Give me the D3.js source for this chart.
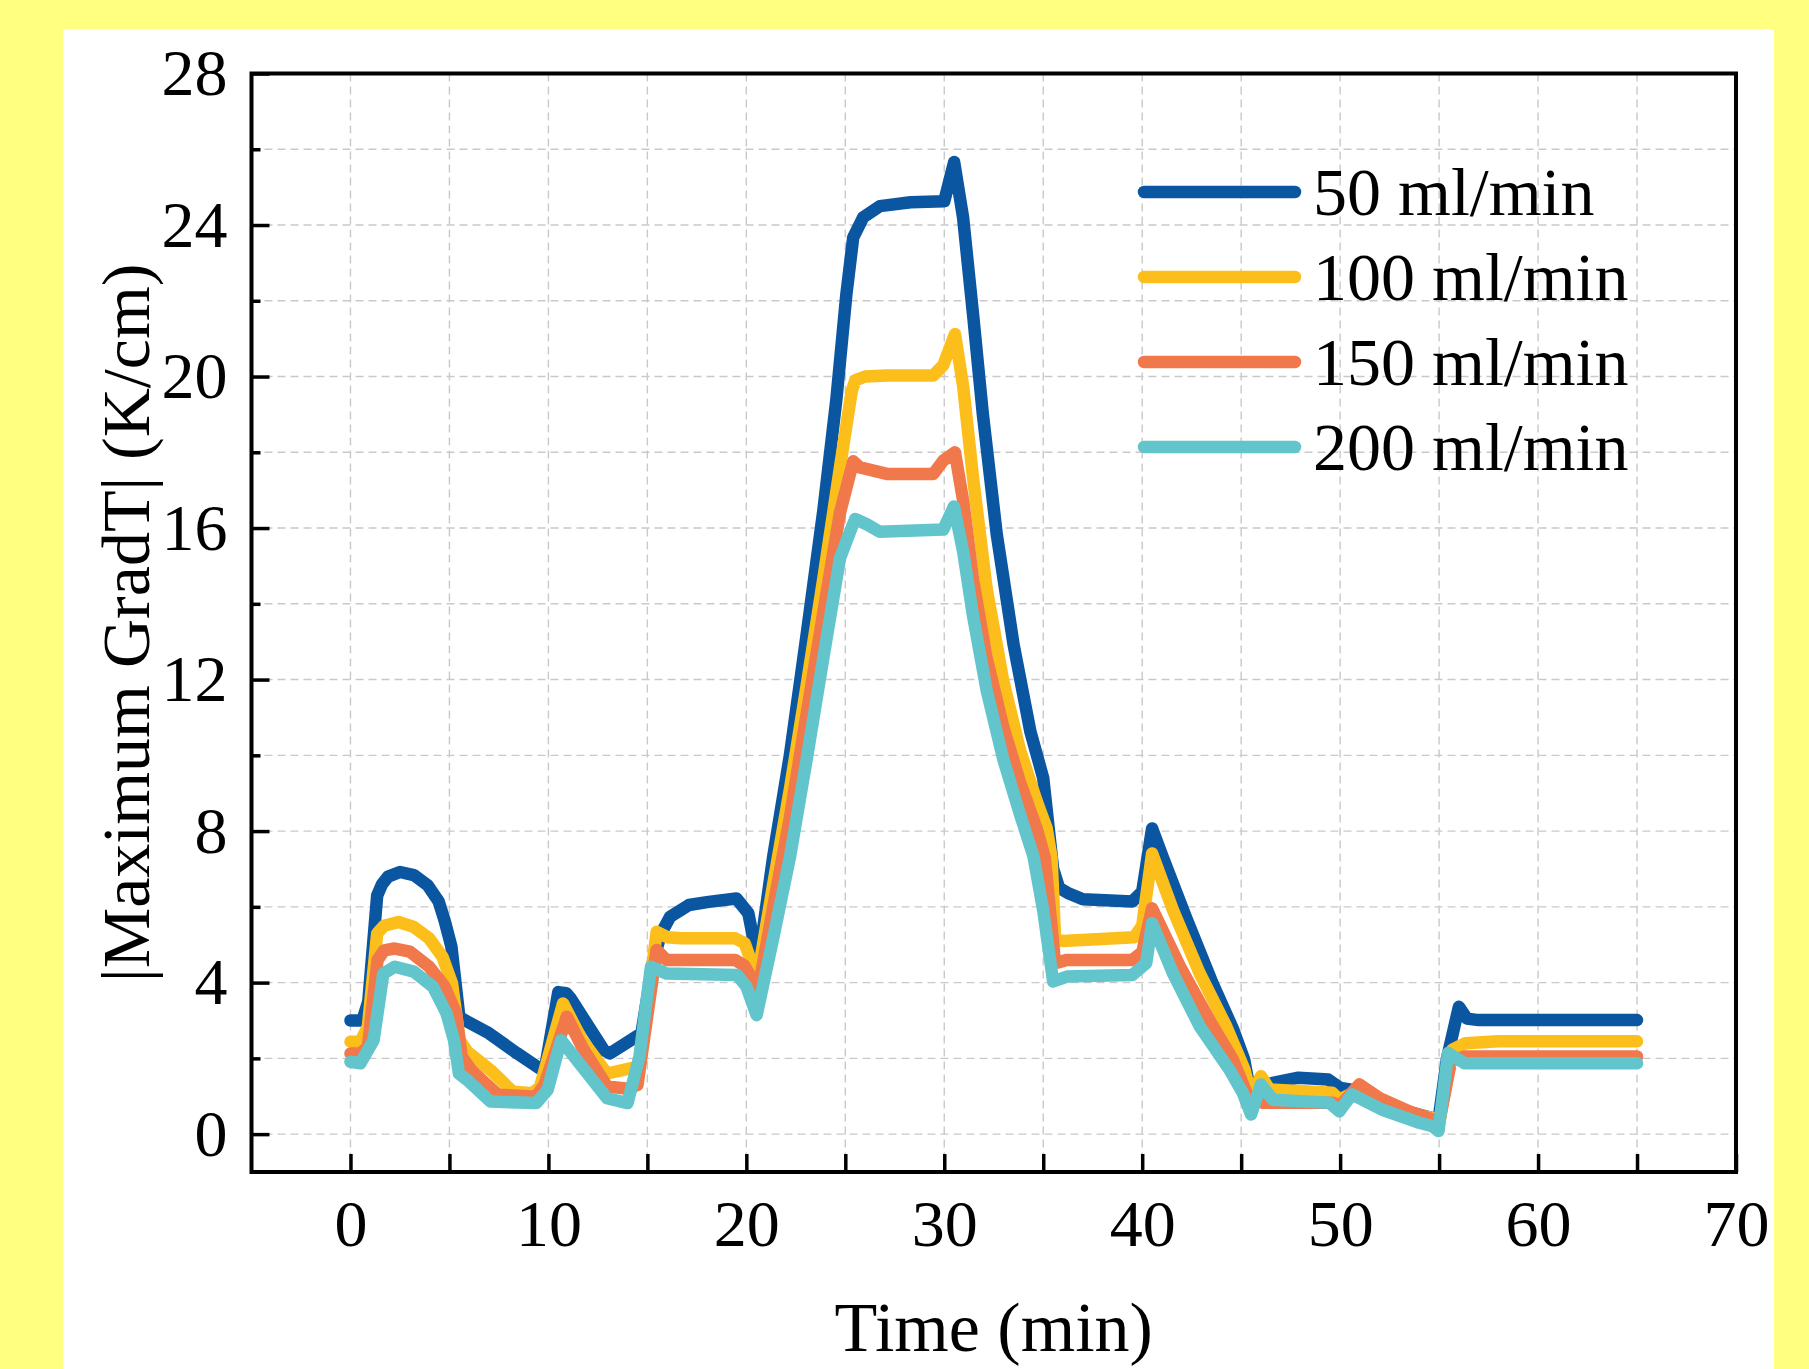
<!DOCTYPE html>
<html>
<head>
<meta charset="utf-8">
<script src="https://cdn.jsdelivr.net/npm/d3@7"></script>
<style>
  html, body { margin: 0; padding: 0; background: #ffff80; }
  svg { display: block; }
</style>
</head>
<body>
<svg id="chart" width="1809" height="1369"></svg>
<script>
// Flow-rate series: time (min) and |Maximum GradT| (K/cm)
const t50  = [0, 0.6, 0.9, 1.35, 1.6, 1.9, 2.5, 3.2, 3.9, 4.45, 4.75, 5.1, 5.5, 5.8, 7.0, 8.4, 9.8, 10.5, 10.9, 11.1, 12.8, 13.1, 14.7, 15.3, 15.7, 16.15, 17.1, 18.1, 19.5, 20.1, 20.6, 21.35, 22.2, 23.05, 23.9, 24.55, 25.05, 25.4, 25.9, 26.75, 28.3, 30.0, 30.5, 30.95, 31.45, 31.95, 32.65, 33.5, 34.35, 35.0, 35.5, 35.8, 36.3, 37.0, 39.5, 40.0, 40.5, 41.05, 42.2, 43.55, 44.6, 45.15, 45.5, 45.8, 46.6, 47.9, 49.4, 50.0, 50.5, 51.3, 53.0, 54.6, 54.95, 55.4, 56.0, 56.4, 57.0, 65.0];
const g50  = [3.0, 3.0, 3.5, 6.3, 6.6, 6.8, 6.92, 6.84, 6.57, 6.15, 5.65, 4.95, 3.1, 3.0, 2.66, 2.14, 1.65, 3.75, 3.72, 3.6, 2.22, 2.13, 2.66, 4.6, 5.3, 5.74, 6.05, 6.13, 6.22, 5.83, 4.5, 7.3, 10.0, 13.2, 16.5, 19.4, 22.15, 23.67, 24.2, 24.5, 24.6, 24.63, 25.66, 24.2, 21.66, 19.0, 15.84, 12.93, 10.63, 9.4, 7.0, 6.5, 6.35, 6.2, 6.14, 6.4, 8.07, 7.3, 5.74, 3.99, 2.76, 1.97, 1.0, 1.2, 1.35, 1.49, 1.44, 1.22, 1.18, 1.0, 0.65, 0.43, 0.3, 2.0, 3.36, 3.05, 3.01, 3.01];

const t100 = [0, 0.5, 0.88, 1.35, 1.7, 2.43, 3.2, 3.97, 4.65, 5.13, 5.52, 5.9, 7.07, 8.2, 9.2, 9.58, 10.74, 11.7, 12.96, 14.2, 14.6, 15.47, 16.0, 16.7, 19.43, 19.92, 20.55, 21.36, 22.2, 23.05, 23.9, 24.73, 25.32, 25.5, 26.0, 27.1, 29.45, 29.95, 30.54, 30.96, 31.46, 32.14, 32.98, 33.82, 34.66, 35.17, 35.42, 35.6, 36.0, 39.6, 40.0, 40.5, 41.55, 42.9, 44.24, 45.17, 45.5, 46.0, 46.43, 49.6, 49.96, 50.9, 52.0, 53.5, 54.7, 55.0, 55.67, 56.34, 58.0, 65.0];
const g100 = [2.44, 2.44, 2.84, 5.3, 5.5, 5.6, 5.47, 5.17, 4.68, 3.98, 2.48, 2.18, 1.69, 1.12, 1.08, 1.25, 3.45, 2.48, 1.6, 1.74, 1.8, 5.34, 5.2, 5.17, 5.17, 5.04, 4.1, 6.6, 9.1, 11.85, 14.7, 17.6, 19.6, 19.9, 20.0, 20.03, 20.03, 20.3, 21.12, 19.72, 17.3, 14.4, 11.96, 10.15, 8.8, 8.08, 7.3, 5.13, 5.1, 5.2, 5.5, 7.41, 5.92, 4.25, 2.85, 1.7, 1.0, 1.53, 1.18, 1.09, 0.91, 1.15, 0.85, 0.55, 0.42, 0.3, 2.23, 2.4, 2.45, 2.45];

const t150 = [0, 0.5, 0.88, 1.37, 1.7, 2.24, 3.0, 3.97, 4.75, 5.33, 5.62, 6.1, 7.45, 9.38, 9.8, 10.93, 11.7, 12.96, 14.0, 14.5, 15.47, 15.96, 19.43, 19.9, 20.6, 21.36, 22.2, 23.05, 23.9, 24.73, 25.4, 25.74, 27.1, 29.45, 29.95, 30.54, 30.96, 31.46, 32.14, 32.98, 33.82, 34.66, 35.08, 35.6, 36.2, 39.5, 40.0, 40.5, 41.9, 43.57, 44.58, 45.34, 46.1, 49.6, 50.0, 50.97, 52.0, 53.5, 54.66, 55.0, 55.6, 56.3, 65.0];
const g150 = [2.13, 2.13, 2.3, 4.6, 4.85, 4.9, 4.82, 4.42, 3.9, 3.19, 2.05, 1.69, 1.04, 0.99, 1.3, 3.1, 2.3, 1.26, 1.2, 1.3, 4.86, 4.6, 4.6, 4.45, 3.8, 6.0, 8.35, 11.1, 13.8, 16.4, 17.76, 17.6, 17.43, 17.43, 17.78, 18.0, 16.7, 14.63, 12.57, 10.75, 9.3, 8.08, 7.3, 4.51, 4.6, 4.6, 4.8, 5.96, 4.43, 2.85, 1.97, 1.0, 0.83, 0.83, 0.75, 1.31, 0.95, 0.6, 0.39, 0.3, 1.92, 2.05, 2.05];

const t200 = [0, 0.5, 1.17, 1.66, 2.24, 3.2, 4.17, 4.85, 5.23, 5.48, 5.9, 7.07, 9.38, 9.96, 10.64, 11.7, 12.96, 14.0, 14.6, 15.18, 15.96, 19.53, 20.0, 20.52, 21.36, 22.2, 23.05, 23.9, 24.73, 25.24, 25.5, 26.08, 26.75, 29.95, 30.49, 30.96, 31.46, 32.14, 32.98, 33.82, 34.5, 35.0, 35.5, 36.2, 39.5, 40.2, 40.5, 41.55, 42.9, 44.41, 45.08, 45.5, 46.0, 46.6, 49.45, 49.96, 50.6, 52.1, 54.0, 54.66, 54.97, 55.45, 56.3, 65.0];
const g200 = [1.91, 1.87, 2.48, 4.24, 4.42, 4.29, 3.89, 3.19, 2.48, 1.6, 1.43, 0.86, 0.82, 1.17, 2.48, 1.78, 0.95, 0.82, 2.05, 4.42, 4.24, 4.2, 3.9, 3.14, 5.18, 7.3, 9.9, 12.6, 15.2, 15.9, 16.24, 16.1, 15.9, 15.96, 16.57, 15.36, 13.66, 11.72, 9.9, 8.45, 7.35, 5.9, 4.03, 4.16, 4.2, 4.51, 5.57, 4.25, 2.85, 1.7, 1.09, 0.52, 1.31, 0.91, 0.83, 0.6, 1.05, 0.65, 0.3, 0.21, 0.08, 2.14, 1.87, 1.87];

const seriesNames = ["50 ml/min", "100 ml/min", "150 ml/min", "200 ml/min"];
const seriesColors = ["#0b56a0", "#fbbe1b", "#f0784b", "#62c5cb"];

const xTicks = [0, 5, 10, 15, 20, 25, 30, 35, 40, 45, 50, 55, 60, 65, 70];
const yTicks = [0, 2, 4, 6, 8, 10, 12, 14, 16, 18, 20, 22, 24, 26, 28];
const xTitle = "Time (min)";
const yTitle = "|Maximum GradT| (K/cm)";

const series = [
  {name: seriesNames[0], color: seriesColors[0], pts: d3.zip(t50, g50)},
  {name: seriesNames[1], color: seriesColors[1], pts: d3.zip(t100, g100)},
  {name: seriesNames[2], color: seriesColors[2], pts: d3.zip(t150, g150)},
  {name: seriesNames[3], color: seriesColors[3], pts: d3.zip(t200, g200)}
];

const FONT = "'Liberation Serif', 'Times New Roman', serif";
const svg = d3.select("#chart");

// page background and white panel
svg.append("rect").attr("width", 1809).attr("height", 1369).attr("fill", "#ffff80");
svg.append("rect").attr("x", 63).attr("y", 29).attr("width", 1711).attr("height", 1340).attr("fill", "#ffffff");

const L = 251.5, R = 1736, T = 73.5, B = 1172;
const x = d3.scaleLinear().domain([-5, 70]).range([L, R]);
const y = d3.scaleLinear().domain([-1, 28]).range([B, T]);

// dashed grid
const grid = svg.append("g").attr("stroke", "#c9c9c9").attr("stroke-width", 1.4).attr("stroke-dasharray", "8,5");
grid.selectAll("line.v").data(xTicks.filter(d => d > -5 && d < 70)).join("line")
  .attr("x1", d => x(d)).attr("x2", d => x(d)).attr("y1", T).attr("y2", B);
grid.selectAll("line.h").data(yTicks.filter(d => d < 28)).join("line")
  .attr("x1", L).attr("x2", R).attr("y1", d => y(d)).attr("y2", d => y(d));

// axes (ticks pointing inward)
const xAxis = d3.axisBottom(x).tickValues(xTicks).tickSizeInner(-18).tickSizeOuter(0).tickPadding(27)
  .tickFormat(d => d % 10 === 0 ? d : "");
const gx = svg.append("g").attr("transform", `translate(0,${B})`).call(xAxis);
gx.select(".domain").remove();
gx.selectAll(".tick line").attr("stroke", "#000").attr("stroke-width", 3.5);
gx.selectAll(".tick text").attr("font-family", FONT).attr("font-size", 66).attr("fill", "#000");

const yAxis = d3.axisLeft(y).tickValues(yTicks).tickSizeInner(-18).tickSizeOuter(0).tickPadding(24)
  .tickFormat(d => d % 4 === 0 ? d : "");
const gy = svg.append("g").attr("transform", `translate(${L},0)`).call(yAxis);
gy.select(".domain").remove();
gy.selectAll(".tick line").attr("stroke", "#000").attr("stroke-width", 3.5)
  .attr("x2", d => d % 4 === 0 ? 18 : 9);
gy.selectAll(".tick text").attr("font-family", FONT).attr("font-size", 66).attr("fill", "#000");

// data lines
const line = d3.line().x(d => x(d[0])).y(d => y(d[1]));
svg.append("g").selectAll("path").data(series).join("path")
  .attr("d", d => line(d.pts))
  .attr("fill", "none")
  .attr("stroke", d => d.color)
  .attr("stroke-width", 12.5)
  .attr("stroke-linejoin", "round")
  .attr("stroke-linecap", "round");

// frame
svg.append("rect").attr("x", L).attr("y", T).attr("width", R - L).attr("height", B - T)
  .attr("fill", "none").attr("stroke", "#000").attr("stroke-width", 4);

// legend
const legend = svg.append("g");
const lg = legend.selectAll("g").data(series).join("g")
  .attr("transform", (d, i) => `translate(0,${192 + i * 85})`);
lg.append("line").attr("x1", 1144).attr("x2", 1295).attr("y1", 0).attr("y2", 0)
  .attr("stroke", d => d.color).attr("stroke-width", 12.5).attr("stroke-linecap", "round");
lg.append("text").attr("x", 1313).attr("y", 23)
  .attr("font-family", FONT).attr("font-size", 68).attr("fill", "#000")
  .text(d => d.name);

// axis titles
svg.append("text").attr("x", (L + R) / 2).attr("y", 1351)
  .attr("text-anchor", "middle").attr("font-family", FONT).attr("font-size", 70).attr("fill", "#000")
  .text(xTitle);
svg.append("text").attr("transform", `translate(149,${(T + B) / 2}) rotate(-90)`)
  .attr("text-anchor", "middle").attr("font-family", FONT).attr("font-size", 68).attr("fill", "#000")
  .text(yTitle);
</script>
</body>
</html>
